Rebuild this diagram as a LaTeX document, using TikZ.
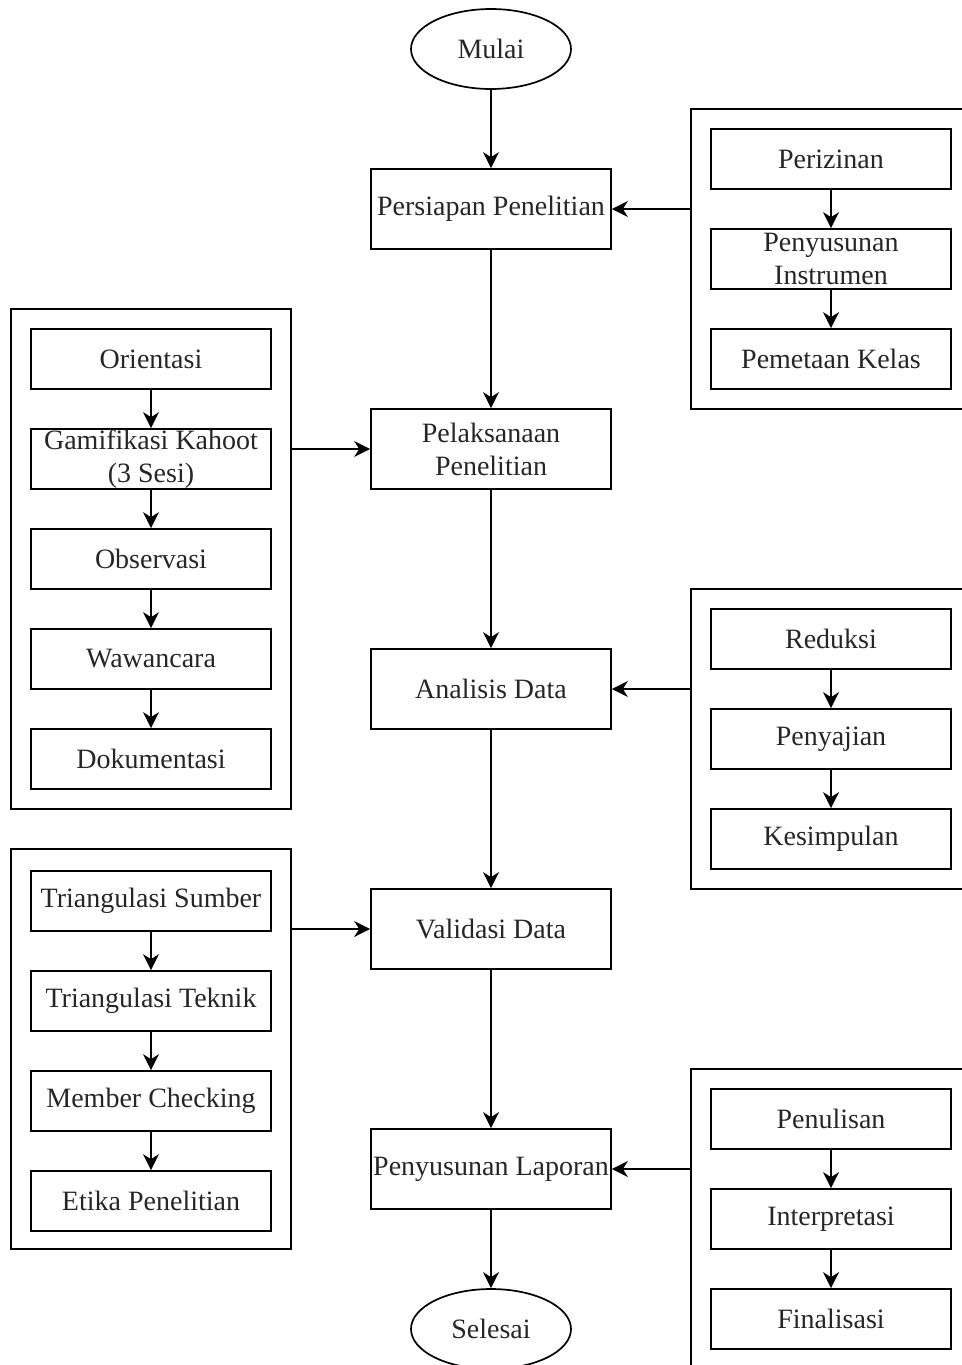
\documentclass[tikz,border=0pt]{standalone}
\usepackage{fontspec}
\setmainfont{Liberation Serif}
\usetikzlibrary{shapes.geometric,arrows.meta}
\begin{document}
\begin{tikzpicture}[x=1pt,y=-1pt,
  every node/.style={font=\fontsize{28}{33}\selectfont, align=center, inner sep=0pt, text=black!85},
  mainbox/.style={draw, line width=1.7pt, rectangle, minimum width=240pt, minimum height=80pt},
  subbox/.style={draw, line width=1.7pt, rectangle, minimum width=240pt, minimum height=60pt},
  groupbox/.style={draw, line width=1.7pt, rectangle},
  term/.style={draw, line width=1.7pt, ellipse, minimum width=160pt, minimum height=80pt},
  arr/.style={line width=1.7pt, -{Stealth[length=16pt,width=16pt,inset=5pt]}}
]
\useasboundingbox (0,0) rectangle (961,1365);

% main column
\node[term] (mulai) at (491,49) {Mulai};
\node[mainbox] (persiapan) at (491,209) {Persiapan Penelitian};
\node[mainbox] (pelaksanaan) at (491,449) {Pelaksanaan\\Penelitian};
\node[mainbox] (analisis) at (491,689) {Analisis Data};
\node[mainbox] (validasi) at (491,929) {Validasi Data};
\node[mainbox] (laporan) at (491,1169) {Penyusunan Laporan};
\node[term] (selesai) at (491,1329) {Selesai};

% right group 1
\node[groupbox, minimum width=284pt, minimum height=300pt] (g1) at (833,259) {};
\node[subbox] (r11) at (831,159) {Perizinan};
\node[subbox] (r12) at (831,259) {Penyusunan\\Instrumen};
\node[subbox] (r13) at (831,359) {Pemetaan Kelas};

% left group A
\node[groupbox, minimum width=280pt, minimum height=500pt] (gA) at (151,559) {};
\node[subbox] (a1) at (151,359) {Orientasi};
\node[subbox] (a2) at (151,459) {Gamifikasi Kahoot\\(3 Sesi)};
\node[subbox] (a3) at (151,559) {Observasi};
\node[subbox] (a4) at (151,659) {Wawancara};
\node[subbox] (a5) at (151,759) {Dokumentasi};

% right group 2
\node[groupbox, minimum width=284pt, minimum height=300pt] (g2) at (833,739) {};
\node[subbox] (r21) at (831,639) {Reduksi};
\node[subbox] (r22) at (831,739) {Penyajian};
\node[subbox] (r23) at (831,839) {Kesimpulan};

% left group B
\node[groupbox, minimum width=280pt, minimum height=400pt] (gB) at (151,1049) {};
\node[subbox] (b1) at (151,901) {Triangulasi Sumber};
\node[subbox] (b2) at (151,1001) {Triangulasi Teknik};
\node[subbox] (b3) at (151,1101) {Member Checking};
\node[subbox] (b4) at (151,1201) {Etika Penelitian};

% right group 3
\node[groupbox, minimum width=284pt, minimum height=300pt] (g3) at (833,1219) {};
\node[subbox] (r31) at (831,1119) {Penulisan};
\node[subbox] (r32) at (831,1219) {Interpretasi};
\node[subbox] (r33) at (831,1319) {Finalisasi};

% main flow
\draw[arr] (mulai) -- (persiapan);
\draw[arr] (persiapan) -- (pelaksanaan);
\draw[arr] (pelaksanaan) -- (analisis);
\draw[arr] (analisis) -- (validasi);
\draw[arr] (validasi) -- (laporan);
\draw[arr] (laporan) -- (selesai);

% group links
\draw[arr] (persiapan.east -| g1.west) -- (persiapan.east);
\draw[arr] (pelaksanaan.west -| gA.east) -- (pelaksanaan.west);
\draw[arr] (analisis.east -| g2.west) -- (analisis.east);
\draw[arr] (validasi.west -| gB.east) -- (validasi.west);
\draw[arr] (laporan.east -| g3.west) -- (laporan.east);

% inner chains
\draw[arr] (r11) -- (r12);
\draw[arr] (r12) -- (r13);
\draw[arr] (a1) -- (a2);
\draw[arr] (a2) -- (a3);
\draw[arr] (a3) -- (a4);
\draw[arr] (a4) -- (a5);
\draw[arr] (r21) -- (r22);
\draw[arr] (r22) -- (r23);
\draw[arr] (b1) -- (b2);
\draw[arr] (b2) -- (b3);
\draw[arr] (b3) -- (b4);
\draw[arr] (r31) -- (r32);
\draw[arr] (r32) -- (r33);
\end{tikzpicture}
\end{document}
